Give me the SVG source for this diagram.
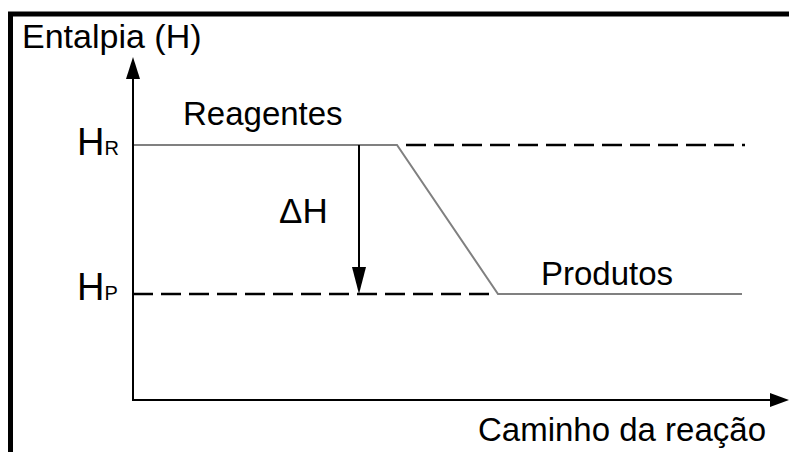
<svg xmlns="http://www.w3.org/2000/svg" width="789" height="452" viewBox="0 0 789 452">
<style>
text{font-family:"Liberation Sans",Arial,sans-serif;fill:#000}
.ax{stroke:#000;stroke-width:2;fill:none}
.lvl{stroke:#808080;stroke-width:2;fill:none}
.dash{stroke:#000;stroke-width:2.5;stroke-dasharray:20 8;fill:none}
.head{fill:#000}
</style>
<rect width="789" height="452" fill="#fff"/>
<path d="M10.5,452 V14 H789" stroke="#000" stroke-width="5" fill="none"/>
<g id="connectors">
<path class="dash" d="M406,145 H745"/>
<path class="dash" d="M133,294 H494"/>
<path class="lvl" d="M133,145 H397 L498,294 H742"/>
<line class="ax" x1="133" y1="401" x2="133" y2="72"/>
<polygon class="head" points="133,57 140,79 126,79"/>
<line class="ax" x1="132" y1="400" x2="774" y2="400"/>
<polygon class="head" points="789,400 770,393 770,407"/>
<line class="ax" x1="359" y1="145" x2="359" y2="272"/>
<polygon class="head" points="359,294 352,267 366,267"/>
</g>
<g id="y-label"><text x="22" y="48" font-size="34">Entalpia (H)</text></g>
<g id="x-label"><text x="478" y="441" font-size="33">Caminho da reação</text></g>
<g id="reagentes"><text x="183" y="125" font-size="33">Reagentes</text></g>
<g id="produtos"><text x="541" y="285" font-size="33">Produtos</text></g>
<g id="hr"><text x="77" y="155" font-size="38">H<tspan font-size="20">R</tspan></text></g>
<g id="hp"><text x="77" y="300" font-size="38">H<tspan font-size="20">P</tspan></text></g>
<g id="dh"><text x="279" y="223" font-size="35">ΔH</text></g>
</svg>
